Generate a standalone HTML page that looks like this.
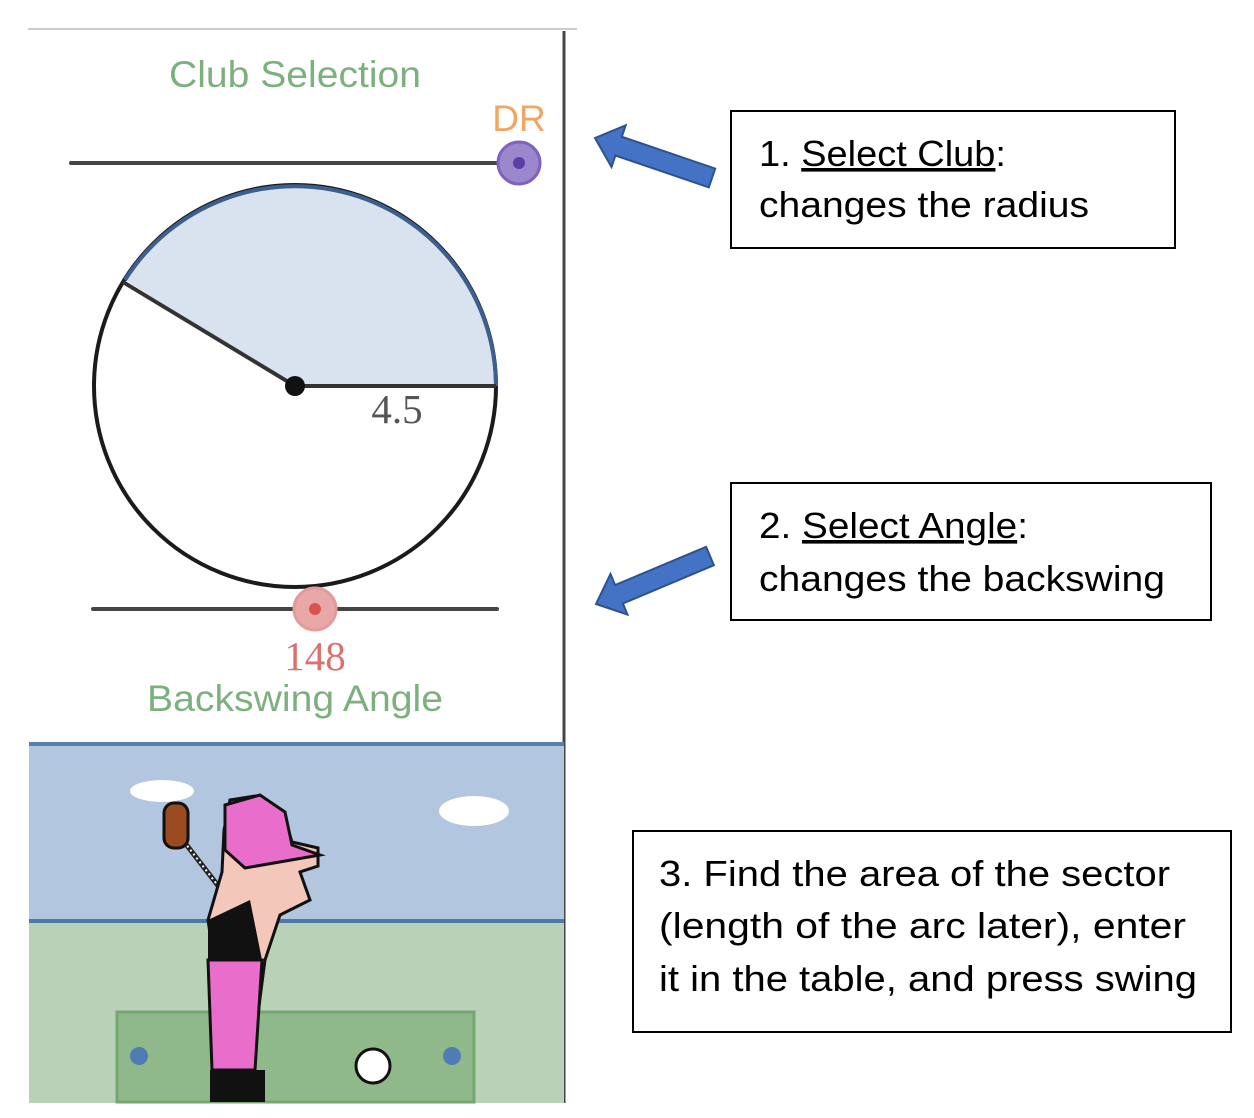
<!DOCTYPE html>
<html><head><meta charset="utf-8"><style>
html,body{margin:0;padding:0;background:#fff}
svg{display:block}
</style></head><body>
<svg width="1254" height="1118" viewBox="0 0 1254 1118" xmlns="http://www.w3.org/2000/svg">
<rect width="1254" height="1118" fill="#fff"/>
<line x1="28" y1="29" x2="577" y2="29" stroke="#ccc" stroke-width="2"/>
<line x1="564" y1="31" x2="564" y2="1103" stroke="#444" stroke-width="3"/>
<text x="295" y="87" font-family="Liberation Sans, sans-serif" font-size="37" fill="#7db07f" text-anchor="middle" textLength="252" lengthAdjust="spacingAndGlyphs">Club Selection</text>
<text x="519" y="131" font-family="Liberation Sans, sans-serif" font-size="37" fill="#f2a561" text-anchor="middle">DR</text>
<line x1="71" y1="163" x2="519" y2="163" stroke="#444" stroke-width="4" stroke-linecap="round"/>
<circle cx="519" cy="163" r="21" fill="#9b87cc" stroke="#7e62c0" stroke-width="3"/>
<circle cx="519" cy="163" r="6" fill="#5b3fa6"/>
<path d="M295 386 L496 386 A201 201 0 0 0 125 280 Z" fill="#d8e3ef"/>
<circle cx="295" cy="386" r="201" fill="none" stroke="#1b1b1b" stroke-width="4"/>
<path d="M496 386 A201 201 0 0 0 125 280" fill="none" stroke="#3c5f8e" stroke-width="4"/>
<line x1="295" y1="386" x2="496" y2="386" stroke="#333" stroke-width="4"/>
<line x1="295" y1="386" x2="123" y2="282" stroke="#333" stroke-width="4"/>
<circle cx="295" cy="386" r="10" fill="#111"/>
<text x="397" y="423" font-family="Liberation Serif, serif" font-size="41" fill="#555" text-anchor="middle">4.5</text>
<line x1="93" y1="609" x2="497" y2="609" stroke="#444" stroke-width="4" stroke-linecap="round"/>
<circle cx="315" cy="609" r="21" fill="#e9a8a8" stroke="#e39a9a" stroke-width="3"/>
<circle cx="315" cy="609" r="6" fill="#d9534f"/>
<text x="315" y="670" font-family="Liberation Serif, serif" font-size="41" fill="#d9726e" text-anchor="middle">148</text>
<text x="295" y="711" font-family="Liberation Sans, sans-serif" font-size="37" fill="#7db07f" text-anchor="middle" textLength="296" lengthAdjust="spacingAndGlyphs">Backswing Angle</text>
<!-- game panel -->
<rect x="29" y="744" width="535" height="177" fill="#b2c6e0"/>
<line x1="29" y1="744" x2="564" y2="744" stroke="#5b7fa6" stroke-width="4"/>
<rect x="29" y="921" width="535" height="182" fill="#b9d2b7"/>
<line x1="29" y1="921" x2="564" y2="921" stroke="#4d78a8" stroke-width="4"/>
<rect x="117" y="1012" width="357" height="90" fill="#8fb88b" stroke="#73a86f" stroke-width="3"/>
<circle cx="139" cy="1056" r="9" fill="#4f7db3"/>
<circle cx="452" cy="1056" r="9" fill="#4f7db3"/>
<circle cx="373" cy="1066" r="17" fill="#fff" stroke="#111" stroke-width="3"/>
<ellipse cx="162" cy="791" rx="32" ry="11" fill="#fff"/>
<ellipse cx="474" cy="811" rx="35" ry="15" fill="#fff"/>
<!-- golfer -->
<line x1="175" y1="830" x2="226" y2="896" stroke="#222" stroke-width="5"/>
<line x1="175" y1="830" x2="226" y2="896" stroke="#fff" stroke-width="2" stroke-dasharray="2 3"/>
<rect x="164" y="803" width="24" height="45" rx="10" fill="#9a4b1f" stroke="#111" stroke-width="3"/>
<path d="M230 800 L255 796 L282 810 L292 842 L318 848 L318 866 L300 872 L310 900 L280 915 L265 960 L250 1075 L230 1080 L212 1070 L214 960 L208 920 L222 872 L224 830 Z" fill="#f4c7bb" stroke="#111" stroke-width="3"/>
<path d="M225 805 L260 795 L285 812 L292 845 L320 855 L245 868 L225 850 Z" fill="#e96ecb" stroke="#111" stroke-width="3"/>
<path d="M208 960 L262 960 L255 1070 L212 1070 Z" fill="#e96ecb" stroke="#111" stroke-width="3"/>
<path d="M208 920 L250 900 L262 960 L208 960 Z" fill="#111"/>
<rect x="210" y="1070" width="55" height="32" fill="#111"/>
<!-- arrows -->
<polygon points="595,138 625.7,125.3 621.8,136.7 715.2,168.6 708.8,187.4 615.4,155.5 611.5,166.9" fill="#4472c4" stroke="#2f528f" stroke-width="2"/>
<polygon points="596,604 610.5,574 615.1,585.1 706.1,546.8 713.9,565.2 622.9,603.5 627.5,614.6" fill="#4472c4" stroke="#2f528f" stroke-width="2"/>
<!-- boxes -->
<rect x="731" y="111" width="444" height="137" fill="#fff" stroke="#000" stroke-width="2"/>
<g font-family="Liberation Sans, sans-serif" font-size="36" fill="#000">
<text x="759" y="166" textLength="247" lengthAdjust="spacingAndGlyphs">1. <tspan text-decoration="underline">Select Club</tspan>:</text>
<text x="759" y="217" textLength="330" lengthAdjust="spacingAndGlyphs">changes the radius</text>
</g>
<rect x="731" y="483" width="480" height="137" fill="#fff" stroke="#000" stroke-width="2"/>
<g font-family="Liberation Sans, sans-serif" font-size="36" fill="#000">
<text x="759" y="538" textLength="269" lengthAdjust="spacingAndGlyphs">2. <tspan text-decoration="underline">Select Angle</tspan>:</text>
<text x="759" y="591" textLength="406" lengthAdjust="spacingAndGlyphs">changes the backswing</text>
</g>
<rect x="633" y="831" width="598" height="201" fill="#fff" stroke="#000" stroke-width="2"/>
<g font-family="Liberation Sans, sans-serif" font-size="36" fill="#000">
<text x="659" y="886" textLength="511" lengthAdjust="spacingAndGlyphs">3. Find the area of the sector</text>
<text x="659" y="938" textLength="527" lengthAdjust="spacingAndGlyphs">(length of the arc later), enter</text>
<text x="659" y="991" textLength="538" lengthAdjust="spacingAndGlyphs">it in the table, and press swing</text>
</g>
</svg>
</body></html>
